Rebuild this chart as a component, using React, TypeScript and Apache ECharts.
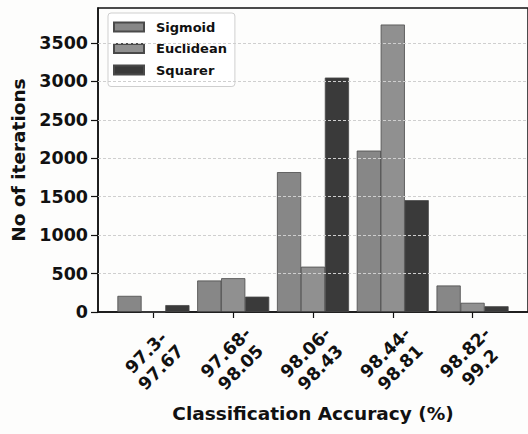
import React, { useEffect, useRef } from "react";
import * as echarts from "echarts";

// Accuracy bins (two-line labels) and iteration counts per activation
const categories = ["97.3-\n97.67", "97.68-\n98.05", "98.06-\n98.43", "98.44-\n98.81", "98.82-\n99.2"];
const sigmoid = [210, 410, 1820, 2100, 345];
const euclidean = [0, 440, 590, 3740, 120];
const squarer = [90, 200, 3050, 1455, 75];
const yTicks = [0, 500, 1000, 1500, 2000, 2500, 3000, 3500];
const seriesNames = ["Sigmoid", "Euclidean", "Squarer"];

const FONT = "DejaVu Sans";

export default function App() {
  const ref = useRef<HTMLDivElement>(null);

  useEffect(() => {
    if (!ref.current) return;
    const chart = echarts.init(ref.current, null, { renderer: "svg" });

    const catIdx = categories.map((_, i) => i);
    const groups = [sigmoid, euclidean, squarer];
    const colors = ["#878787", "#909090", "#3a3a3a"];
    const offsets = [-0.3, 0, 0.3];

    const series: any[] = groups.map((vals, s) => ({
      type: "bar",
      name: seriesNames[s],
      barWidth: 24.2,
      barGap: "-100%",
      itemStyle: { color: colors[s], borderColor: "#4a4a4a", borderWidth: 0.8 },
      data: vals.map((v, i) => [i + offsets[s], v]),
    }));

    // dashed grid lines drawn on top of the bars
    series[0].markLine = {
      silent: true,
      symbol: "none",
      label: { show: false },
      lineStyle: { color: "#cfcfcf", type: [3, 2], width: 1 },
      data: yTicks.slice(1).map((t) => ({ yAxis: t })),
    };

    chart.setOption({
      animation: false,
      backgroundColor: "#fdfdfc",
      textStyle: { fontFamily: FONT },
      grid: {
        left: 98,
        top: 8,
        right: -5,
        bottom: 122,
        show: true,
        borderColor: "#111",
        borderWidth: 1.5,
        backgroundColor: "transparent",
      },
      legend: {
        orient: "vertical",
        left: 108,
        top: 13,
        padding: [5.5, 8, 8, 5],
        itemWidth: 30,
        itemHeight: 9,
        itemGap: 4.5,
        icon: "rect",
        backgroundColor: "rgba(255,255,255,0.85)",
        borderColor: "#cfcfcf",
        borderWidth: 1,
        borderRadius: 3,
        data: seriesNames,
        textStyle: {
          fontFamily: FONT,
          fontSize: 13,
          fontWeight: "bold",
          color: "#111",
          lineHeight: 17,
          padding: [0, 0, 0, 7],
        },
      },
      xAxis: {
        type: "value",
        min: -0.695,
        max: 4.695,
        name: "Classification Accuracy (%)",
        nameLocation: "middle",
        nameGap: 89,
        nameTextStyle: { fontFamily: FONT, fontSize: 18.5, fontWeight: "bold", color: "#111" },
        axisLine: { show: true, onZero: false, lineStyle: { color: "#111", width: 1.5 } },
        axisTick: { show: true, length: 6, customValues: catIdx, lineStyle: { color: "#111", width: 1.2 } },
        splitLine: { show: false },
        axisLabel: {
          customValues: catIdx,
          formatter: (v: number) => categories[Math.round(v)] ?? "",
          rotate: 45,
          align: "center",
          verticalAlign: "middle",
          margin: 48,
          fontFamily: FONT,
          fontSize: 17.5,
          fontWeight: "bold",
          lineHeight: 21,
          color: "#111",
        },
      },
      yAxis: {
        type: "value",
        min: 0,
        max: 3955,
        name: "No of iterations",
        nameLocation: "middle",
        nameGap: 69,
        nameTextStyle: { fontFamily: FONT, fontSize: 18.5, fontWeight: "bold", color: "#111" },
        axisLine: { show: true, onZero: false, lineStyle: { color: "#111", width: 1.5 } },
        axisTick: { show: true, length: 7, customValues: yTicks, lineStyle: { color: "#111", width: 1.2 } },
        splitLine: { show: false },
        axisLabel: {
          customValues: yTicks,
          formatter: (v: number) => String(v),
          margin: 10,
          fontFamily: FONT,
          fontSize: 17.5,
          fontWeight: "bold",
          color: "#111",
        },
      },
      series,
    });

    return () => chart.dispose();
  }, []);

  return (
    <div
      ref={ref}
      style={{ position: "absolute", left: 0, top: 0, width: 528, height: 434 }}
    />
  );
}
